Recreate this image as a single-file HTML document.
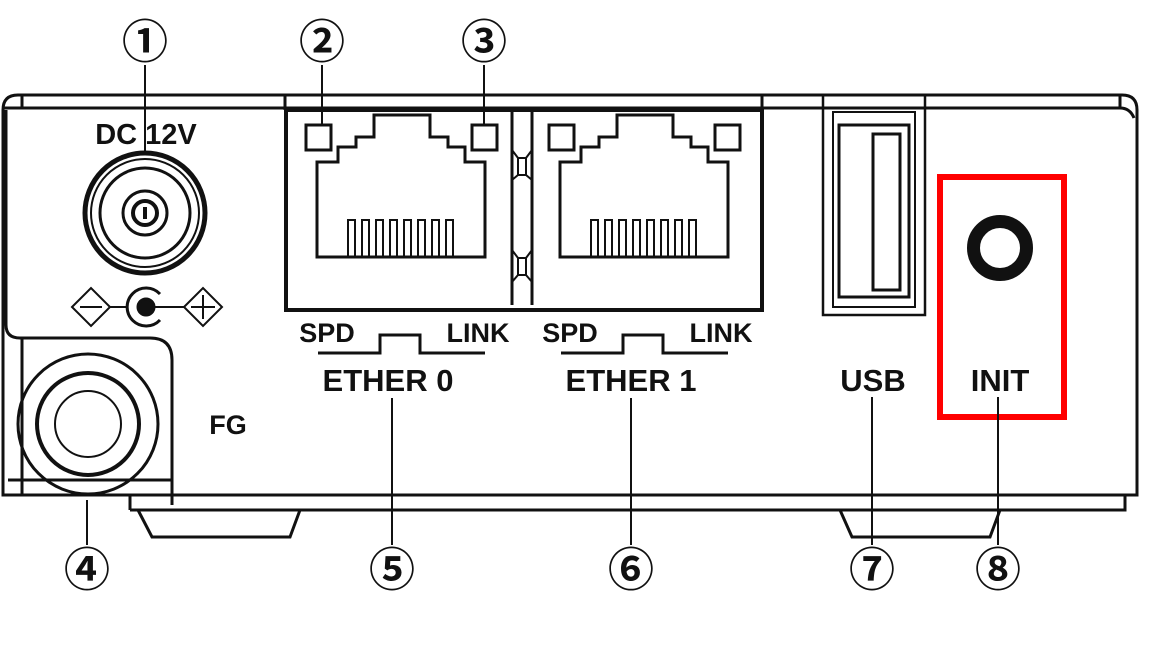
<!DOCTYPE html>
<html><head><meta charset="utf-8"><style>
html,body{margin:0;padding:0;background:#fff;}
svg{display:block}
text{font-family:"Liberation Sans","Noto Sans CJK JP",sans-serif;font-weight:bold;fill:#111}
.n{font-family:"Noto Sans CJK JP","Liberation Sans",sans-serif;font-weight:bold;font-size:46px}
</style></head><body>
<svg width="1155" height="652" viewBox="0 0 1155 652" xmlns="http://www.w3.org/2000/svg">
<g fill="none" stroke="#111" stroke-width="3">
 <path d="M3,495 L3,110 Q3,95 18,95 L1122,95 Q1137,95 1137,110 L1137,495 Z"/>
 <line x1="3" y1="108" x2="1120" y2="108"/>
 <path d="M1120,95 L1120,108 Q1130,108 1134,118"/>
 <line x1="22" y1="95" x2="22" y2="108"/>
 <line x1="3" y1="495" x2="1137" y2="495"/>
 <path d="M130,510 L1125,510 L1125,495"/>
 <path d="M130,495 L130,510"/>
 <path d="M6,110 L6,325 Q6,338 20,338 L150,338 Q172,338 172,360 L172,505"/>
 <path d="M22,338 L22,495"/>
 <line x1="8" y1="480" x2="172" y2="480"/>
 <path d="M138,510 L152,537 L290,537 L300,510"/>
 <path d="M840,510 L852,537 L990,537 L1000,510"/>
 <circle cx="145" cy="213" r="60" stroke-width="5"/>
 <circle cx="145" cy="213" r="54" stroke-width="2"/>
 <circle cx="145" cy="213" r="45"/>
 <circle cx="145" cy="213" r="22"/>
 <circle cx="145" cy="213" r="12" stroke-width="4"/>
 <rect x="143" y="207" width="4" height="12" fill="#111" stroke="none"/>
 <path d="M72,307 L91,288 L110,307 L91,326 Z" stroke-width="2"/>
 <line x1="80" y1="307" x2="102" y2="307" stroke-width="2"/>
 <line x1="110" y1="307" x2="127" y2="307" stroke-width="2"/>
 <path d="M160,294 A19,19 0 1 0 160,320" stroke-width="3"/>
 <circle cx="146" cy="307" r="8" fill="#111"/>
 <line x1="146" y1="307" x2="184" y2="307" stroke-width="2"/>
 <path d="M184,307 L203,288 L222,307 L203,326 Z" stroke-width="2"/>
 <line x1="203" y1="295" x2="203" y2="319" stroke-width="2"/>
 <line x1="191" y1="307" x2="215" y2="307" stroke-width="2"/>
 <circle cx="88" cy="424" r="70"/>
 <circle cx="88" cy="424" r="51" stroke-width="4"/>
 <circle cx="88" cy="424" r="33" stroke-width="2"/>
 <rect x="286" y="110" width="476" height="200" stroke-width="4"/>
 <line x1="285" y1="95" x2="285" y2="110"/>
 <line x1="762" y1="95" x2="762" y2="110"/>
 <line x1="512" y1="112" x2="512" y2="305"/>
 <line x1="532" y1="112" x2="532" y2="305"/>
 <path d="M512,150 L518,158 L526,158 L532,150 M518,158 L518,175 M526,158 L526,175 M512,180 L518,175 L526,175 L532,180" stroke-width="2"/>
 <path d="M512,250 L518,258 L526,258 L532,250 M518,258 L518,275 M526,258 L526,275 M512,282 L518,275 L526,275 L532,282" stroke-width="2"/>
 <g id="jack">
  <rect x="306" y="125" width="25" height="25"/>
  <rect x="472" y="125" width="25" height="25"/>
  <path d="M317,257 L317,162 L338,162 L338,147 L356,147 L356,137 L374,137 L374,115 L430,115 L430,137 L448,137 L448,147 L465,147 L465,162 L485,162 L485,257 Z"/>
  <path d="M348,257 L348,220 L355,220 L355,257 M362,257 L362,220 L369,220 L369,257 M376,257 L376,220 L383,220 L383,257 M390,257 L390,220 L397,220 L397,257 M404,257 L404,220 L411,220 L411,257 M418,257 L418,220 L425,220 L425,257 M432,257 L432,220 L439,220 L439,257 M446,257 L446,220 L453,220 L453,257" stroke-width="2"/>
  <path d="M318,353 L380,353 L380,335 L420,335 L420,353 L485,353"/>
 </g>
 <use href="#jack" transform="translate(243,0)"/>
 <rect x="823" y="95" width="102" height="220" stroke-width="2.5"/>
 <rect x="833" y="112" width="82" height="195" stroke-width="2"/>
 <rect x="839" y="125" width="70" height="172" stroke-width="3"/>
 <rect x="873" y="134" width="27" height="156" stroke-width="3"/>
 <circle cx="1000" cy="248" r="26.5" stroke-width="13"/>
 <rect x="940" y="177" width="124" height="240" stroke="#f00" stroke-width="6"/>
 <g stroke-width="2">
  <line x1="145" y1="65" x2="145" y2="153"/>
  <line x1="322" y1="65" x2="322" y2="125"/>
  <line x1="484" y1="65" x2="484" y2="125"/>
  <line x1="87" y1="500" x2="87" y2="545"/>
  <line x1="392" y1="398" x2="392" y2="545"/>
  <line x1="631" y1="398" x2="631" y2="545"/>
  <line x1="872" y1="397" x2="872" y2="545"/>
  <line x1="998" y1="397" x2="998" y2="545"/>
 </g>
</g>
<rect x="136" y="118" width="12" height="30" fill="#fff"/>
<text x="146" y="144" font-size="29" text-anchor="middle">DC 12V</text>
<line x1="145" y1="110" x2="145" y2="153" stroke="#111" stroke-width="2"/>
<text x="228" y="434" font-size="27" text-anchor="middle">FG</text>
<text x="327" y="342" font-size="27" text-anchor="middle">SPD</text>
<text x="478" y="342" font-size="27" text-anchor="middle">LINK</text>
<text x="570" y="342" font-size="27" text-anchor="middle">SPD</text>
<text x="721" y="342" font-size="27" text-anchor="middle">LINK</text>
<text x="388" y="391" font-size="31" text-anchor="middle">ETHER 0</text>
<text x="631" y="391" font-size="31" text-anchor="middle">ETHER 1</text>
<text x="873" y="391" font-size="31" text-anchor="middle">USB</text>
<text x="1000" y="391" font-size="31" text-anchor="middle">INIT</text>
<text class="n" x="145" y="58" text-anchor="middle">①</text>
<text class="n" x="322" y="58" text-anchor="middle">②</text>
<text class="n" x="484" y="58" text-anchor="middle">③</text>
<text class="n" x="87" y="586" text-anchor="middle">④</text>
<text class="n" x="392" y="586" text-anchor="middle">⑤</text>
<text class="n" x="631" y="586" text-anchor="middle">⑥</text>
<text class="n" x="872" y="586" text-anchor="middle">⑦</text>
<text class="n" x="998" y="586" text-anchor="middle">⑧</text>
</svg>
</body></html>
